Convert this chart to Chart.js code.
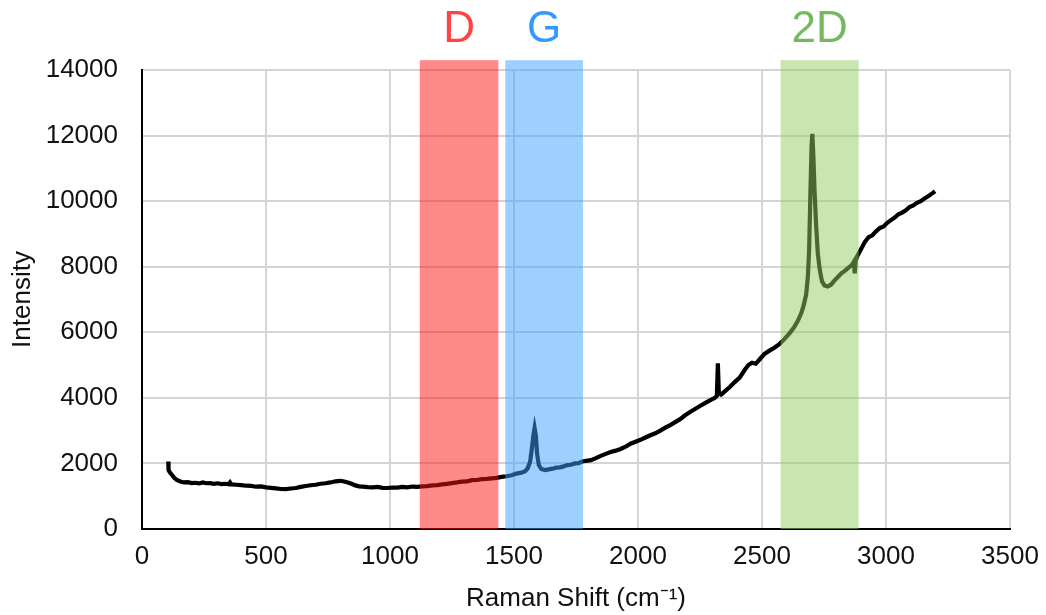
<!DOCTYPE html>
<html>
<head>
<meta charset="utf-8">
<title>Raman Spectrum</title>
<script src="https://cdn.jsdelivr.net/npm/chart.js@4.4.1/dist/chart.umd.min.js"></script>
<style>
    body { margin: 0; background: #ffffff; }
    #ramanChart { display: block; }
</style>
</head>
<body>
<canvas id="ramanChart" width="1046" height="615"></canvas>
<script>
// 라만 스펙트럼 데이터 (cm-1, intensity)
const shiftValues = [
    106, 107, 110, 115, 122, 130, 140, 155, 170, 185, 200, 215, 230, 245, 260, 275, 290, 305, 320, 335,
    350, 355, 360, 380, 400, 420, 440, 460, 480, 500, 520, 540, 560, 580, 600, 620, 640, 660, 680, 700,
    720, 740, 760, 780, 800, 815, 830, 845, 860, 875, 890, 910, 930, 950, 970, 990, 1010, 1030, 1050, 1070,
    1090, 1110, 1130, 1150, 1170, 1190, 1210, 1230, 1250, 1270, 1290, 1310, 1330, 1350, 1370, 1390, 1410, 1430, 1450, 1470,
    1490, 1510, 1530, 1545, 1555, 1565, 1572, 1578, 1583, 1588, 1593, 1600, 1610, 1625, 1640, 1655, 1670, 1685, 1700, 1715,
    1730, 1745, 1760, 1775, 1790, 1810, 1830, 1850, 1870, 1890, 1910, 1930, 1950, 1970, 1990, 2010, 2030, 2050, 2070, 2090,
    2110, 2130, 2150, 2170, 2190, 2210, 2230, 2250, 2270, 2290, 2310, 2318, 2322, 2326, 2335, 2350, 2370, 2390, 2410, 2430,
    2445, 2460, 2475, 2490, 2510, 2530, 2550, 2570, 2590, 2610, 2630, 2645, 2658, 2668, 2678, 2685, 2690, 2695, 2700, 2703,
    2707, 2712, 2718, 2725, 2733, 2742, 2752, 2765, 2778, 2790, 2805, 2820, 2835, 2850, 2862, 2870, 2874, 2878, 2886, 2900,
    2915, 2930, 2945, 2960, 2975, 2990, 3005, 3020, 3035, 3050, 3065, 3080, 3095, 3110, 3125, 3140, 3155, 3170, 3185, 3198
];

const intensityValues = [
    2060, 1800, 1760, 1700, 1640, 1560, 1500, 1450, 1420, 1430, 1400, 1410, 1390, 1420, 1395, 1400, 1380, 1395, 1370, 1380,
    1365, 1420, 1360, 1350, 1340, 1320, 1315, 1290, 1300, 1270, 1255, 1240, 1220, 1215, 1235, 1250, 1285, 1310, 1335, 1350,
    1380, 1395, 1420, 1455, 1470, 1450, 1420, 1380, 1330, 1300, 1295, 1280, 1270, 1285, 1255, 1250, 1265, 1260, 1285, 1270,
    1295, 1285, 1300, 1310, 1330, 1340, 1360, 1375, 1400, 1420, 1445, 1450, 1490, 1495, 1520, 1530, 1545, 1560, 1590, 1610,
    1640, 1690, 1720, 1760, 1850, 2050, 2450, 2850, 3080, 2850, 2300, 1950, 1830, 1800, 1820, 1840, 1870, 1880, 1910, 1950,
    1960, 2000, 2010, 2060, 2080, 2100, 2160, 2230, 2290, 2350, 2390, 2440, 2510, 2600, 2660, 2720, 2790, 2860, 2920, 3000,
    3090, 3170, 3260, 3350, 3470, 3570, 3660, 3750, 3840, 3920, 4000, 4060, 5050, 4150, 4100, 4200, 4330, 4480, 4620, 4850,
    5000, 5070, 5040, 5170, 5340, 5440, 5530, 5640, 5790, 5960, 6160, 6360, 6580, 6820, 7150, 7700, 8500, 10200, 11700, 12050,
    11400, 10300, 9300, 8400, 7900, 7550, 7430, 7400, 7450, 7560, 7680, 7800, 7880, 7980, 8050, 8150, 7800, 8200, 8350, 8550,
    8760, 8900, 8960, 9080, 9180, 9230, 9340, 9420, 9500, 9600, 9650, 9720, 9820, 9870, 9950, 10000, 10080, 10150, 10230, 10300
];

// 피크 영역 (D, G, 2D)
const bandNames = ['D', 'G', '2D'];
const bandStarts = [1120, 1465, 2575];
const bandEnds = [1437, 1778, 2890];
const bandTop = 14300;

// 축 눈금
const xTicks = [0, 500, 1000, 1500, 2000, 2500, 3000, 3500];
const yTicks = [0, 2000, 4000, 6000, 8000, 10000, 12000, 14000];

const BAND_FILL = ['rgba(255, 20, 20, 0.5)', 'rgba(60, 162, 255, 0.5)', 'rgba(150, 205, 98, 0.5)'];
const BAND_TEXT = ['#ff4343', '#3399ff', '#74b95f'];
const FONT = '"Liberation Sans", Arial, sans-serif';

/**
 * 피크 영역 플러그인 - 데이터 위에 반투명 띠와 라벨을 그림
 */
const bandPlugin = {
    id: 'ramanBands',
    afterDatasetsDraw(chart) {
        const ctx = chart.ctx;
        const xs = chart.scales.x;
        const ys = chart.scales.y;
        const top = ys.getPixelForValue(bandTop);
        const bottom = ys.getPixelForValue(0);

        ctx.save();
        bandNames.forEach((name, i) => {
            const left = xs.getPixelForValue(bandStarts[i]);
            const right = xs.getPixelForValue(bandEnds[i]);
            ctx.fillStyle = BAND_FILL[i];
            ctx.fillRect(left, top, right - left, bottom - top);

            ctx.fillStyle = BAND_TEXT[i];
            ctx.font = '44px ' + FONT;
            ctx.textAlign = 'center';
            ctx.textBaseline = 'alphabetic';
            ctx.fillText(name, (left + right) / 2, top - 18);
        });
        ctx.restore();
    }
};

function createRamanChart(canvasId) {
    const ctx = document.getElementById(canvasId).getContext('2d');
    const points = shiftValues.map((x, i) => ({ x: x, y: intensityValues[i] }));

    const chart = new Chart(ctx, {
        type: 'line',
        data: {
            datasets: [{
                label: 'Intensity',
                data: points,
                borderColor: '#000000',
                borderWidth: 4.2,
                pointRadius: 0,
                fill: false,
                tension: 0
            }]
        },
        options: {
            responsive: false,
            animation: false,
            layout: {
                padding: { top: 70, right: 36, bottom: 0, left: 0 }
            },
            plugins: {
                legend: { display: false },
                tooltip: { enabled: false }
            },
            scales: {
                x: {
                    type: 'linear',
                    min: 0,
                    max: 3500,
                    afterBuildTicks: (scale) => { scale.ticks = xTicks.map(v => ({ value: v })); },
                    afterFit: (scale) => {
                        scale.height = 86;
                        scale.paddingLeft = 0;
                        scale.paddingRight = 0;
                    },
                    grid: { color: '#d4d4d4', lineWidth: 2, drawTicks: false },
                    border: { color: '#000000', width: 2 },
                    ticks: {
                        color: '#111111',
                        font: { family: FONT, size: 26 },
                        padding: 12,
                        maxRotation: 0,
                        callback: (value) => String(value)
                    },
                    title: {
                        display: true,
                        text: 'Raman Shift (cm\u207B\u00B9)',
                        color: '#111111',
                        font: { family: FONT, size: 26 },
                        padding: { top: 0, bottom: 1 }
                    }
                },
                y: {
                    min: 0,
                    max: 14000,
                    afterBuildTicks: (scale) => { scale.ticks = yTicks.map(v => ({ value: v })); },
                    afterFit: (scale) => { scale.width = 142; },
                    grid: { color: '#d4d4d4', lineWidth: 2, drawTicks: false },
                    border: { color: '#000000', width: 2 },
                    ticks: {
                        color: '#111111',
                        font: { family: FONT, size: 26 },
                        padding: 24,
                        callback: (value) => String(value)
                    },
                    title: {
                        display: true,
                        text: 'Intensity',
                        color: '#111111',
                        font: { family: FONT, size: 26 },
                        padding: { top: 7, bottom: 0 }
                    }
                }
            }
        },
        plugins: [bandPlugin]
    });

    return chart;
}

createRamanChart('ramanChart');
</script>
</body>
</html>
